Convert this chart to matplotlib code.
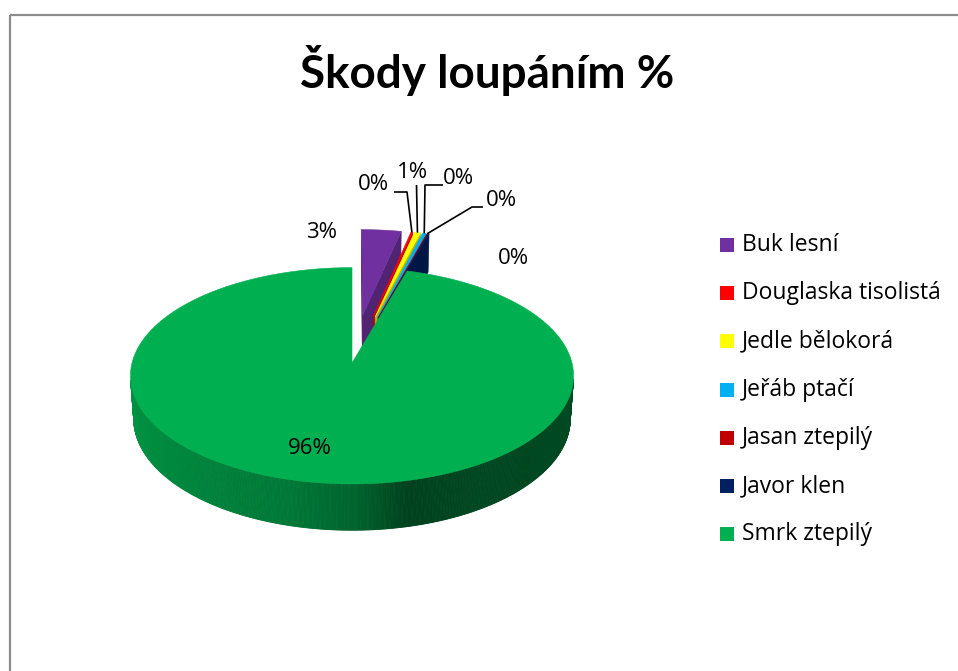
import numpy as np
import matplotlib
matplotlib.use("Agg")
import matplotlib.pyplot as plt
from matplotlib.patches import Polygon, Rectangle

# ---- data -------------------------------------------------------------
title = "Škody loupáním %"
species = ["Buk lesní", "Douglaska tisolistá", "Jedle bělokorá", "Jeřáb ptačí",
           "Jasan ztepilý", "Javor klen", "Smrk ztepilý"]
shares = [3.4, 0.15, 0.5, 0.3, 0.05, 0.1, 95.5]
colors = ["#7030A0", "#FF0000", "#FFFF00", "#00B0F0", "#C00000", "#002060", "#00B050"]
explode = [0.47, 0.47, 0.47, 0.47, 0.47, 0.47, 0.0]

# label text positions (pixels) and leader elbows
label_pos = [(322, 232), (373, 185), (413, 172), (458, 178), (501, 200), (513, 258), (310, 448)]
leader_elbows = [None, [(394, 192), (407, 192)], [(416.5, 185)],
                 [(443, 185), (425, 185)], [(483, 207), (472, 207)], None, None]

# ---- figure -------------------------------------------------------------
W, H = 958, 671
fig = plt.figure(figsize=(W / 100, H / 100), dpi=100)
ax = fig.add_axes([0, 0, 1, 1])
ax.set_xlim(0, W)
ax.set_ylim(H, 0)
ax.axis("off")

# chart-area frame (only the left and top edges fall inside the canvas)
ax.add_patch(Rectangle((10, 14.5), 2000, 2000, fill=False, ec="#8c8c8c", lw=1.6))

# ---- perspective 3-D pie --------------------------------------------------
CX, CY = 352, 363
SCALE = 220
ELEV = np.radians(29)
DIST = 7.4
DEPTH = 0.225
ca, sa = np.cos(ELEV), np.sin(ELEV)
CAM = np.array([0.0, -DIST * ca, DIST * sa])


def project(X, Y, Z):
    d = DIST + Y * ca - Z * sa
    u = X * DIST / d
    v = (Y * sa + Z * ca) * DIST / d
    return CX + SCALE * u, CY - SCALE * v


def shade(col, f):
    r, g, b = matplotlib.colors.to_rgb(col)
    return (r * f, g * f, b * f)


# brightness of the outer wall versus angle (light from the left)
wall_ang = [180, 215, 256, 272, 283, 300, 360]
wall_fac = [0.86, 0.79, 0.68, 0.55, 0.37, 0.40, 0.42]

total = float(sum(shares))
frac = np.array(shares) / total
cum = np.concatenate([[0], np.cumsum(frac)])

slices = []
for i, (c, e) in enumerate(zip(colors, explode)):
    b = 90 - 360 * cum[i]       # start (clockwise from 12 o'clock)
    a = 90 - 360 * cum[i + 1]   # end
    m = np.radians((a + b) / 2)
    ox, oy = e * np.cos(m), e * np.sin(m)
    cy_ = oy + 0.5 * np.sin(m)
    dist = DIST + cy_ * ca
    slices.append(dict(i=i, a=a, b=b, ox=ox, oy=oy, dist=dist, col=c))

rim_points = {}
for s in sorted(slices, key=lambda s: -s["dist"]):
    a, b, ox, oy, col = s["a"], s["b"], s["ox"], s["oy"], s["col"]
    n = max(3, int((b - a) / 0.4))
    th = np.radians(np.linspace(a, b, n))
    # outer wall strips facing the camera
    for t0, t1 in zip(th[:-1], th[1:]):
        tm = 0.5 * (t0 + t1)
        P = np.array([ox + np.cos(tm), oy + np.sin(tm), 0.0])
        nrm = np.array([np.cos(tm), np.sin(tm), 0.0])
        if np.dot(nrm, CAM - P) <= 0:
            continue
        deg = np.degrees(tm) % 360
        f = np.interp(deg, wall_ang, wall_fac)
        pts = [project(ox + np.cos(t0), oy + np.sin(t0), 0),
               project(ox + np.cos(t1), oy + np.sin(t1), 0),
               project(ox + np.cos(t1), oy + np.sin(t1), -DEPTH),
               project(ox + np.cos(t0), oy + np.sin(t0), -DEPTH)]
        fc = shade(col, f)
        ax.add_patch(Polygon(pts, closed=True, fc=fc, ec=fc, lw=0.6))
    # radial cut faces
    apex = np.array([ox, oy, 0.0])
    for ang, nrm in ((a, (np.sin(np.radians(a)), -np.cos(np.radians(a)), 0)),
                     (b, (-np.sin(np.radians(b)), np.cos(np.radians(b)), 0))):
        if np.dot(np.array(nrm), CAM - apex) <= 1e-9:
            continue
        t = np.radians(ang)
        pts = [project(ox, oy, 0), project(ox + np.cos(t), oy + np.sin(t), 0),
               project(ox + np.cos(t), oy + np.sin(t), -DEPTH), project(ox, oy, -DEPTH)]
        fc = shade(col, 0.72)
        ax.add_patch(Polygon(pts, closed=True, fc=fc, ec=fc, lw=0.4))
    # top face
    top = [project(ox, oy, 0)] + [project(ox + np.cos(t), oy + np.sin(t), 0) for t in th]
    ax.add_patch(Polygon(top, closed=True, fc=col, ec=col, lw=0.4))
    tm = np.radians((a + b) / 2)
    rim_points[s["i"]] = project(ox + np.cos(tm), oy + np.sin(tm), 0)

# ---- data labels ------------------------------------------------------------
FONT = ["Open Sans", "DejaVu Sans"]
TITLE_FONT = ["Lato", "DejaVu Sans"]
for i, v in enumerate(shares):
    txt = f"{np.floor(v / total * 100 + 0.5):.0f}%"
    x, y = label_pos[i]
    ax.text(x, y, txt, ha="center", va="center", fontsize=16, family=FONT, color="black")
    if leader_elbows[i]:
        path = leader_elbows[i] + [rim_points[i]]
        xs, ys = zip(*path)
        ax.plot(xs, ys, color="black", lw=1.2, solid_capstyle="butt")

# ---- title -----------------------------------------------------------------
ax.text(487, 70, title, ha="center", va="center", fontsize=33, weight="bold", family=TITLE_FONT)

# ---- legend ------------------------------------------------------------------
LEG_X, LEG_Y, LEG_STEP, BOX = 720, 245, 48.2, 14
for i, (name, c) in enumerate(zip(species, colors)):
    y = LEG_Y + i * LEG_STEP
    ax.add_patch(Rectangle((LEG_X, y - BOX / 2), BOX, BOX, fc=c, ec="none"))
    ax.text(LEG_X + BOX + 8, y, name, ha="left", va="center", fontsize=16.5, family=FONT)

fig.savefig("out.png", dpi=100, facecolor="white")
